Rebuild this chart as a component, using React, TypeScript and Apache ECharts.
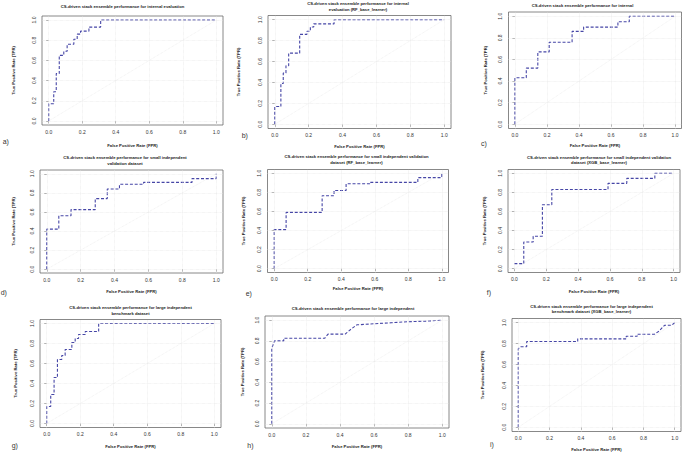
import React, { useEffect, useRef } from "react";
import * as echarts from "echarts";

// ---------- data ----------
const rocA: number[][] = [[0,0],[0,0.17],[0.03,0.17],[0.03,0.29],[0.045,0.29],[0.045,0.47],[0.063,0.47],[0.063,0.65],[0.09,0.65],[0.09,0.69],[0.11,0.69],[0.11,0.76],[0.15,0.76],[0.15,0.81],[0.17,0.81],[0.17,0.86],[0.19,0.86],[0.19,0.89],[0.24,0.89],[0.24,0.93],[0.31,0.93],[0.31,1],[1,1]];
const rocB: number[][] = [[0,0],[0,0.17],[0.036,0.17],[0.036,0.39],[0.05,0.39],[0.05,0.49],[0.066,0.49],[0.066,0.56],[0.082,0.56],[0.082,0.68],[0.147,0.68],[0.147,0.86],[0.19,0.86],[0.19,0.89],[0.21,0.89],[0.21,0.93],[0.23,0.93],[0.23,0.96],[0.35,0.96],[0.35,1],[1,1]];
const rocC: number[][] = [[0,0],[0,0.43],[0.071,0.43],[0.071,0.52],[0.143,0.52],[0.143,0.67],[0.214,0.67],[0.214,0.76],[0.357,0.76],[0.357,0.86],[0.429,0.86],[0.429,0.9],[0.643,0.9],[0.643,0.95],[0.714,0.95],[0.714,1],[1,1]];
const rocD: number[][] = [[0,0],[0,0.42],[0.071,0.42],[0.071,0.56],[0.143,0.56],[0.143,0.625],[0.286,0.625],[0.286,0.74],[0.357,0.74],[0.357,0.84],[0.429,0.84],[0.429,0.89],[0.571,0.89],[0.571,0.91],[0.857,0.91],[0.857,0.95],[1,0.95],[1,1]];
const rocE: number[][] = [[0,0],[0,0.41],[0.071,0.41],[0.071,0.59],[0.286,0.59],[0.286,0.765],[0.357,0.765],[0.357,0.82],[0.429,0.82],[0.429,0.89],[0.571,0.89],[0.571,0.905],[0.857,0.905],[0.857,0.955],[1,0.955],[1,1]];
const rocF: number[][] = [[0,0.053],[0.059,0.053],[0.059,0.28],[0.118,0.28],[0.118,0.34],[0.176,0.34],[0.176,0.67],[0.235,0.67],[0.235,0.83],[0.588,0.83],[0.588,0.895],[0.706,0.895],[0.706,0.947],[0.882,0.947],[0.882,1],[1,1]];
const rocG: number[][] = [[0,0],[0,0.17],[0.024,0.17],[0.024,0.29],[0.044,0.29],[0.044,0.46],[0.064,0.46],[0.064,0.64],[0.09,0.64],[0.09,0.68],[0.11,0.68],[0.11,0.74],[0.15,0.74],[0.15,0.81],[0.17,0.81],[0.17,0.85],[0.19,0.85],[0.19,0.89],[0.23,0.89],[0.23,0.92],[0.31,0.92],[0.31,1],[1,1]];
const rocH: number[][] = [[0,0],[0,0.73],[0.016,0.8],[0.07,0.8],[0.07,0.825],[0.31,0.825],[0.33,0.865],[0.43,0.865],[0.47,0.92],[0.5,0.955],[0.6,0.965],[0.7,0.975],[0.8,0.985],[0.9,0.99],[1,1]];
const rocI: number[][] = [[0,0],[0,0.75],[0.015,0.77],[0.054,0.77],[0.054,0.82],[0.38,0.82],[0.38,0.845],[0.69,0.845],[0.69,0.87],[0.76,0.87],[0.76,0.89],[0.87,0.89],[0.9,0.92],[0.935,0.975],[0.98,0.975],[1,1]];

const ROCS = [rocA, rocB, rocC, rocD, rocE, rocF, rocG, rocH, rocI];

const TITLES = [
  "CS-driven stack ensemble performance for internal evaluation",
  "CS-driven stack ensemble performance for internal\nevaluation (RF_base_learner)",
  "CS-driven stack ensemble performance for internal",
  "CS-driven stack ensemble performance for small independent\nvalidation dataset",
  "CS-driven stack ensemble performance for small independent validation\ndataset (RF_base_learner)",
  "CS-driven stack ensemble performance for small independent validation\ndataset (XGB_base_learner)",
  "CS-driven stack ensemble performance for large independent\nbenchmark dataset",
  "CS-driven stack ensemble performance for large independent",
  "CS-driven stack ensemble performance for large independent\nbenchmark dataset (XGB_base_learner)",
];
const PANEL_LABELS = ["a)", "b)", "c)", "d)", "e)", "f)", "g)", "h)", "i)"];
const X_NAME = "False Positive Rate (FPR)";
const Y_NAME = "True Positive Rate (TPR)";
const TICKS = [0, 0.2, 0.4, 0.6, 0.8, 1.0];
const DIAGONAL = [[0, 0], [1, 1]];

// ---------- layout ----------
const GRID = [
  { left: 42, top: 16, width: 181, height: 109 },
  { left: 268, top: 15.5, width: 183, height: 113 },
  { left: 508.5, top: 12, width: 173, height: 116.5 },
  { left: 40, top: 170, width: 183, height: 103 },
  { left: 267.5, top: 169.5, width: 181, height: 103 },
  { left: 508, top: 169.5, width: 172, height: 103 },
  { left: 40, top: 319.5, width: 181, height: 108 },
  { left: 265, top: 316, width: 184, height: 112 },
  { left: 512, top: 318.5, width: 169, height: 113 },
];
const TITLE_POS = [
  [122.5, 4], [358, 0.5], [582.5, 2.3],
  [125, 154.5], [356.5, 154], [599, 154.3],
  [130.5, 304.5], [353, 305.5], [591.5, 303.3],
];
const LABEL_POS = [
  [2.7, 141], [241.7, 135.3], [481, 143.3],
  [0.7, 292.2], [245.7, 293.3], [486.7, 292.2],
  [11.7, 445.8], [247.3, 445.5], [490, 444.5],
];
const X_GAP = [18.5, 15.5, 15, 16, 13.5, 17, 17, 16.5, 16];
const Y_GAP = [26.5, 27.5, 21, 24.5, 22.5, 21.5, 22.5, 20.5, 27.5];

const FONT = "Liberation Sans, Arial, sans-serif";

export default function App() {
  const ref = useRef<HTMLDivElement>(null);
  useEffect(() => {
    if (!ref.current) return;
    const chart = echarts.init(ref.current, undefined, { renderer: "svg" });

    const grid: any[] = [];
    const xAxis: any[] = [];
    const yAxis: any[] = [];
    const series: any[] = [];
    const graphic: any[] = [];

    ROCS.forEach((roc, i) => {
      const g = GRID[i];
      grid.push({
        left: g.left, top: g.top, width: g.width, height: g.height,
        show: true, borderColor: "#6a6a6a", borderWidth: 0.8, backgroundColor: "#fff",
      });
      const common = {
        gridIndex: i, type: "value", min: -0.04, max: 1.04,
        nameLocation: "middle",
        nameTextStyle: { fontSize: 4.2, fontWeight: "bold", color: "#222", fontFamily: FONT },
        axisLine: { show: false },
        splitLine: { show: false },
        axisTick: { show: true, length: 2.5, customValues: TICKS, lineStyle: { color: "#666", width: 0.6 } },
        axisLabel: {
          customValues: TICKS, fontSize: 5, color: "#333", fontFamily: FONT,
          formatter: (v: number) => v.toFixed(1),
        },
      };
      xAxis.push({ ...common, name: X_NAME, nameGap: X_GAP[i], axisLabel: { ...common.axisLabel, margin: 4 } });
      yAxis.push({ ...common, name: Y_NAME, nameGap: Y_GAP[i], axisLabel: { ...common.axisLabel, margin: 6, rotate: 90 } });

      // faint grid lines + diagonal reference
      series.push({
        type: "line", xAxisIndex: i, yAxisIndex: i, data: DIAGONAL, symbol: "none", silent: true,
        lineStyle: { color: "#ececec", width: 0.8, type: "dotted" },
        markLine: {
          silent: true, symbol: "none", label: { show: false },
          lineStyle: { color: "#e4e4e4", width: 0.6, type: "dotted" },
          data: [
            ...TICKS.map((t) => ({ xAxis: t })),
            ...TICKS.map((t) => ({ yAxis: t })),
          ],
        },
      });
      series.push({
        type: "line", xAxisIndex: i, yAxisIndex: i, data: roc, symbol: "none",
        lineStyle: { color: "#4646a6", width: 1.1, type: [3, 1.8] },
      });

      graphic.push({
        type: "text", left: undefined, x: TITLE_POS[i][0], y: TITLE_POS[i][1],
        style: {
          text: TITLES[i], fontSize: 4.2, fontWeight: "bold", fill: "#222", fontFamily: FONT,
          align: "center", verticalAlign: "top", lineHeight: 5.8,
        },
      });
      graphic.push({
        type: "text", x: LABEL_POS[i][0], y: LABEL_POS[i][1],
        style: {
          text: PANEL_LABELS[i], fontSize: 7, fill: "#333", fontFamily: FONT,
          align: "left", verticalAlign: "middle",
        },
      });
    });

    chart.setOption({
      animation: false,
      backgroundColor: "#fff",
      grid, xAxis, yAxis, series, graphic,
    });
    return () => chart.dispose();
  }, []);
  return (
    <div
      ref={ref}
      style={{ position: "fixed", left: 0, top: 0, width: 685, height: 453, background: "#fff" }}
    />
  );
}
